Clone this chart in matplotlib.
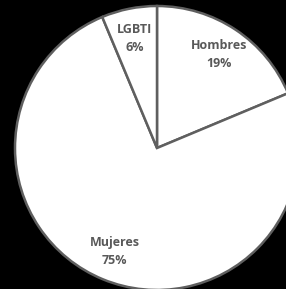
import matplotlib.pyplot as plt

# Data
labels = ['Hombres', 'Mujeres', 'LGBTI']
values = [18.7, 75.0, 6.3]

W, H = 286, 289
fig = plt.figure(figsize=(W / 100, H / 100), dpi=100, facecolor='black')

# pie centre ~ (157, 148) px, radius ~142 px (clipped on the right)
cx, cy, r = 157, 148, 142
ax = fig.add_axes([(cx - r) / W, (H - cy - r) / H, 2 * r / W, 2 * r / H])
ax.set_facecolor('black')

wedges, texts, autotexts = ax.pie(
    values, labels=None, startangle=90, counterclock=False,
    colors=['white'] * 3, radius=1,
    wedgeprops=dict(edgecolor='#5f5f5f', linewidth=1.8),
    autopct='%.0f%%', pctdistance=0.79)

for w in wedges:
    w.set_clip_on(False)

for name, t in zip(labels, autotexts):
    t.set_text(f'{name}\n{t.get_text()}')
    t.set_fontfamily('Open Sans')
    t.set_fontweight('bold')
    t.set_fontsize(9)
    t.set_color('#595959')
    t.set_linespacing(1.5)

ax.set_xlim(-1, 1)
ax.set_ylim(-1, 1)
ax.set_aspect('equal')
ax.axis('off')

fig.savefig('out.png', dpi=100, facecolor='black')
